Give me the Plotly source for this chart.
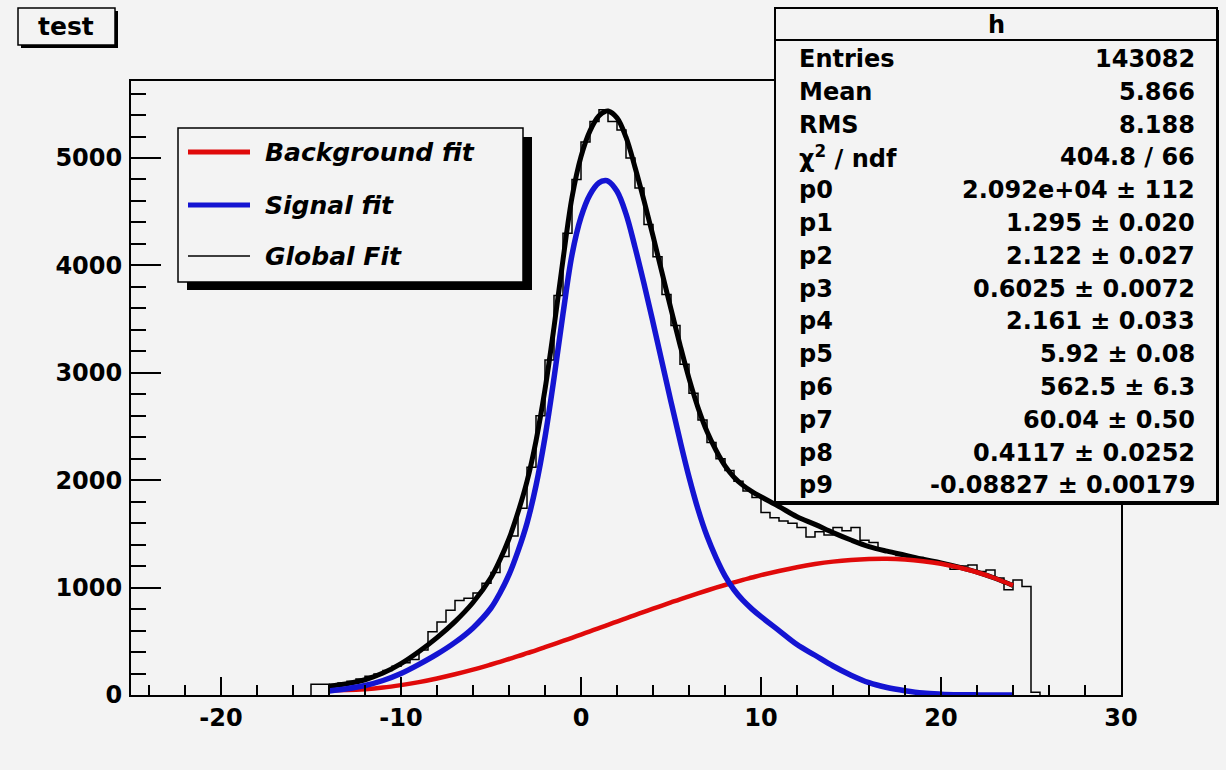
import plotly.graph_objects as go

# ------------------------------------------------------------------ data
fit_x = [-14, -13, -12, -11, -10, -9, -8, -7, -6, -5,
         -4.5, -4, -3.5, -3, -2.5, -2, -1.5, -1, -0.5, 0, 0.5, 1,
         1.35, 1.5,
         2, 2.5, 3, 3.5, 4, 4.5, 5, 5.5, 6, 6.5, 7, 7.5, 8, 8.5, 9, 9.5, 10,
         11, 12, 13, 14, 15, 16, 17, 18, 19, 20, 21, 22, 23, 24]

signal_fit = [38, 58, 88, 135, 200, 285, 380, 490, 625, 810,
              950, 1120, 1340, 1600, 1950, 2400, 2950, 3550, 4100, 4450, 4660, 4770,
              4790, 4785,
              4690, 4480, 4170, 3830, 3470, 3100, 2730, 2370, 2030, 1730, 1480, 1280, 1110, 980, 880, 800, 730,
              600, 470, 370, 270, 185, 115, 70, 40, 18, 8, 3, 1, 0, 0]

background_fit = [45, 46, 54, 69, 92, 120, 154, 193, 236, 284,
                  309, 335, 361, 389, 416, 445, 474, 503, 533, 563, 593, 623,
                  644, 653,
                  684, 714, 744, 774, 804, 833, 862, 891, 918, 946, 973, 999, 1024, 1048, 1072, 1094, 1116,
                  1155, 1190, 1219, 1242, 1258, 1267, 1269, 1262, 1246, 1222, 1187, 1143, 1087, 1020]

global_fit = [83, 104, 142, 204, 292, 405, 534, 683, 861, 1094,
              1259, 1455, 1701, 1989, 2366, 2845, 3424, 4053, 4633, 5013, 5253, 5393,
              5434, 5438,
              5374, 5194, 4914, 4604, 4274, 3933, 3592, 3261, 2948, 2676, 2453, 2279, 2134, 2028, 1952, 1894, 1846,
              1755, 1660, 1589, 1512, 1443, 1382, 1339, 1302, 1264, 1230, 1190, 1144, 1087, 1020]

bin_edges = [-15, -14.5, -14, -13.5, -13, -12.5, -12, -11.5, -11, -10.5,
             -10, -9.5, -9, -8.5, -8, -7.5, -7, -6.5, -6, -5.5,
             -5, -4.5, -4, -3.5, -3, -2.5, -2, -1.5, -1, -0.5,
             0, 0.5, 1, 1.5, 2, 2.5, 3, 3.5, 4, 4.5,
             5, 5.5, 6, 6.5, 7, 7.5, 8, 8.5, 9, 9.5,
             10, 10.5, 11, 11.5, 12, 12.5, 13, 13.5, 14, 14.5,
             15, 15.5, 16, 16.5, 17, 17.5, 18, 18.5, 19, 19.5,
             20, 20.5, 21, 21.5, 22, 22.5, 23, 23.5, 24, 24.5,
             25, 25.5]

bin_counts = [100, 100, 95, 112, 128, 150, 175, 195, 228, 268,
              300, 330, 420, 590, 680, 790, 880, 900, 950, 1040,
              1140, 1290, 1480, 1740, 2120, 2600, 3120, 3720, 4300, 4800,
              5150, 5340, 5450, 5340, 5260, 5000, 4720, 4380, 4080, 3730,
              3440, 3080, 2810, 2560, 2350, 2200, 2090, 1990, 1900, 1840,
              1700, 1650, 1620, 1600, 1560, 1470, 1520, 1490, 1560, 1530,
              1560, 1440, 1420, 1350, 1330, 1300, 1290, 1280, 1250, 1240,
              1220, 1170, 1200, 1210, 1150, 1165, 1090, 980, 1070, 1010,
              25]

x_major_ticks = [-20, -10, 0, 10, 20, 30]
x_tick_labels = ["-20", "-10", "0", "10", "20", "30"]
y_major_ticks = [0, 1000, 2000, 3000, 4000, 5000]
y_tick_labels = ["0", "1000", "2000", "3000", "4000", "5000"]

title_text = "test"
legend_labels = ["Background fit", "Signal fit", "Global Fit"]
stats_title = "h"
stats_labels = ["Entries", "Mean", "RMS", "χ<sup>2</sup> / ndf",
                "p0", "p1", "p2", "p3", "p4", "p5", "p6", "p7", "p8", "p9"]
stats_values = ["143082", "5.866", "8.188", "404.8 / 66",
                "2.092e+04 ± 112", "1.295 ± 0.020", "2.122 ± 0.027",
                "0.6025 ± 0.0072", "2.161 ± 0.033", "5.92 ± 0.08",
                "562.5 ± 6.3", "60.04 ± 0.50", "0.4117 ± 0.0252",
                "-0.08827 ± 0.00179"]

# ------------------------------------------------------------------ style / layout
W, H = 1226, 770
L, R, T, B = 131, 1121, 81, 695          # frame in pixels
BG = "#f3f3f3"
RED = "#e00a0a"
BLUE = "#1414d2"
FONT = "DejaVu Sans"


def px(x):
    return (x - L) / (R - L)


def py(y):
    return (B - y) / (B - T)


fig = go.Figure()

# histogram outline
hx = [bin_edges[0]] + bin_edges
hy = [0] + bin_counts + [0]
fig.add_trace(go.Scatter(x=hx, y=hy, mode="lines", line=dict(color="black", width=1.5, shape="hv"),
                         hoverinfo="skip", showlegend=False))
fig.add_trace(go.Scatter(x=fit_x, y=global_fit, mode="lines",
                         line=dict(color="black", width=5, shape="spline", smoothing=1.0),
                         showlegend=False))
fig.add_trace(go.Scatter(x=fit_x, y=background_fit, mode="lines",
                         line=dict(color=RED, width=4.5, shape="spline", smoothing=1.0),
                         showlegend=False))
fig.add_trace(go.Scatter(x=fit_x, y=signal_fit, mode="lines",
                         line=dict(color=BLUE, width=5.5, shape="spline", smoothing=1.0),
                         showlegend=False))

axis_font = dict(family=FONT, size=24, color="black", weight="bold")

fig.update_xaxes(range=[-25, 30], tickmode="array", tickvals=x_major_ticks, ticktext=x_tick_labels,
                 ticks="inside", ticklen=18, tickwidth=2,
                 tickcolor="black", showline=True, linecolor="black", linewidth=2, mirror=True,
                 showgrid=False, zeroline=False, tickfont=axis_font, ticklabelstandoff=0,
                 minor=dict(ticks="inside", ticklen=10, tickwidth=1.5, tickcolor="black",
                            dtick=2, tick0=0, showgrid=False))
fig.update_yaxes(range=[0, 5717], tickmode="array", tickvals=y_major_ticks, ticktext=y_tick_labels,
                 ticks="inside", ticklen=30, tickwidth=2,
                 tickcolor="black", showline=True, linecolor="black", linewidth=2, mirror=True,
                 showgrid=False, zeroline=False, tickfont=axis_font, ticklabelstandoff=2,
                 minor=dict(ticks="inside", ticklen=15, tickwidth=1.5, tickcolor="black",
                            dtick=200, tick0=0, showgrid=False))

shapes = []
annotations = []


def rect(x0, y0, x1, y1, fill, lw=0, lc="black"):
    shapes.append(dict(type="rect", xref="paper", yref="paper", layer="above",
                       x0=px(x0), x1=px(x1), y0=py(y1), y1=py(y0),
                       fillcolor=fill, line=dict(width=lw, color=lc)))


def hline(x0, x1, y, color, width):
    shapes.append(dict(type="line", xref="paper", yref="paper", layer="above",
                       x0=px(x0), x1=px(x1), y0=py(y), y1=py(y),
                       line=dict(color=color, width=width)))


def text(x, y, s, size, anchor="left", bold=True, italic=False):
    if italic:
        s = "<i>" + s + "</i>"
    annotations.append(dict(xref="paper", yref="paper", x=px(x), y=py(y), text=s,
                            showarrow=False, xanchor=anchor, yanchor="middle",
                            font=dict(family=FONT, size=size, color="black",
                                      weight="bold" if bold else "normal")))


# title box
rect(21, 11, 118, 48, "black")
rect(18, 8, 115, 45, BG, 1.5)
text(66, 27, title_text, 25, "center")

# legend box
rect(187, 137, 532, 290, "black")
rect(178, 128, 523, 282, BG, 1.5)
legend_colors = [RED, BLUE, "black"]
legend_widths = [5, 5, 1.5]
legend_rows = [152, 205, 256]
for lab, col, lw, yy in zip(legend_labels, legend_colors, legend_widths, legend_rows):
    hline(188, 250, yy, col, lw)
    text(263, yy, lab, 25, "left", True, True)

# stats box (with a slight shadow)
rect(777, 10, 1219, 505, "black")
rect(775, 8, 1217, 502, BG, 2)
hline(775, 1217, 40, "black", 2)
text(996, 25, stats_title, 24, "center")
for i, (lab, val) in enumerate(zip(stats_labels, stats_values)):
    yy = 59 + i * 32.8
    text(797, yy, lab, 24, "left")
    text(1197, yy, val, 24, "right")

fig.update_layout(width=W, height=H, margin=dict(l=L, r=W - R, t=T, b=H - B, pad=0),
                  paper_bgcolor=BG, plot_bgcolor=BG, showlegend=False,
                  shapes=shapes, annotations=annotations)

fig.write_html("out.html")
